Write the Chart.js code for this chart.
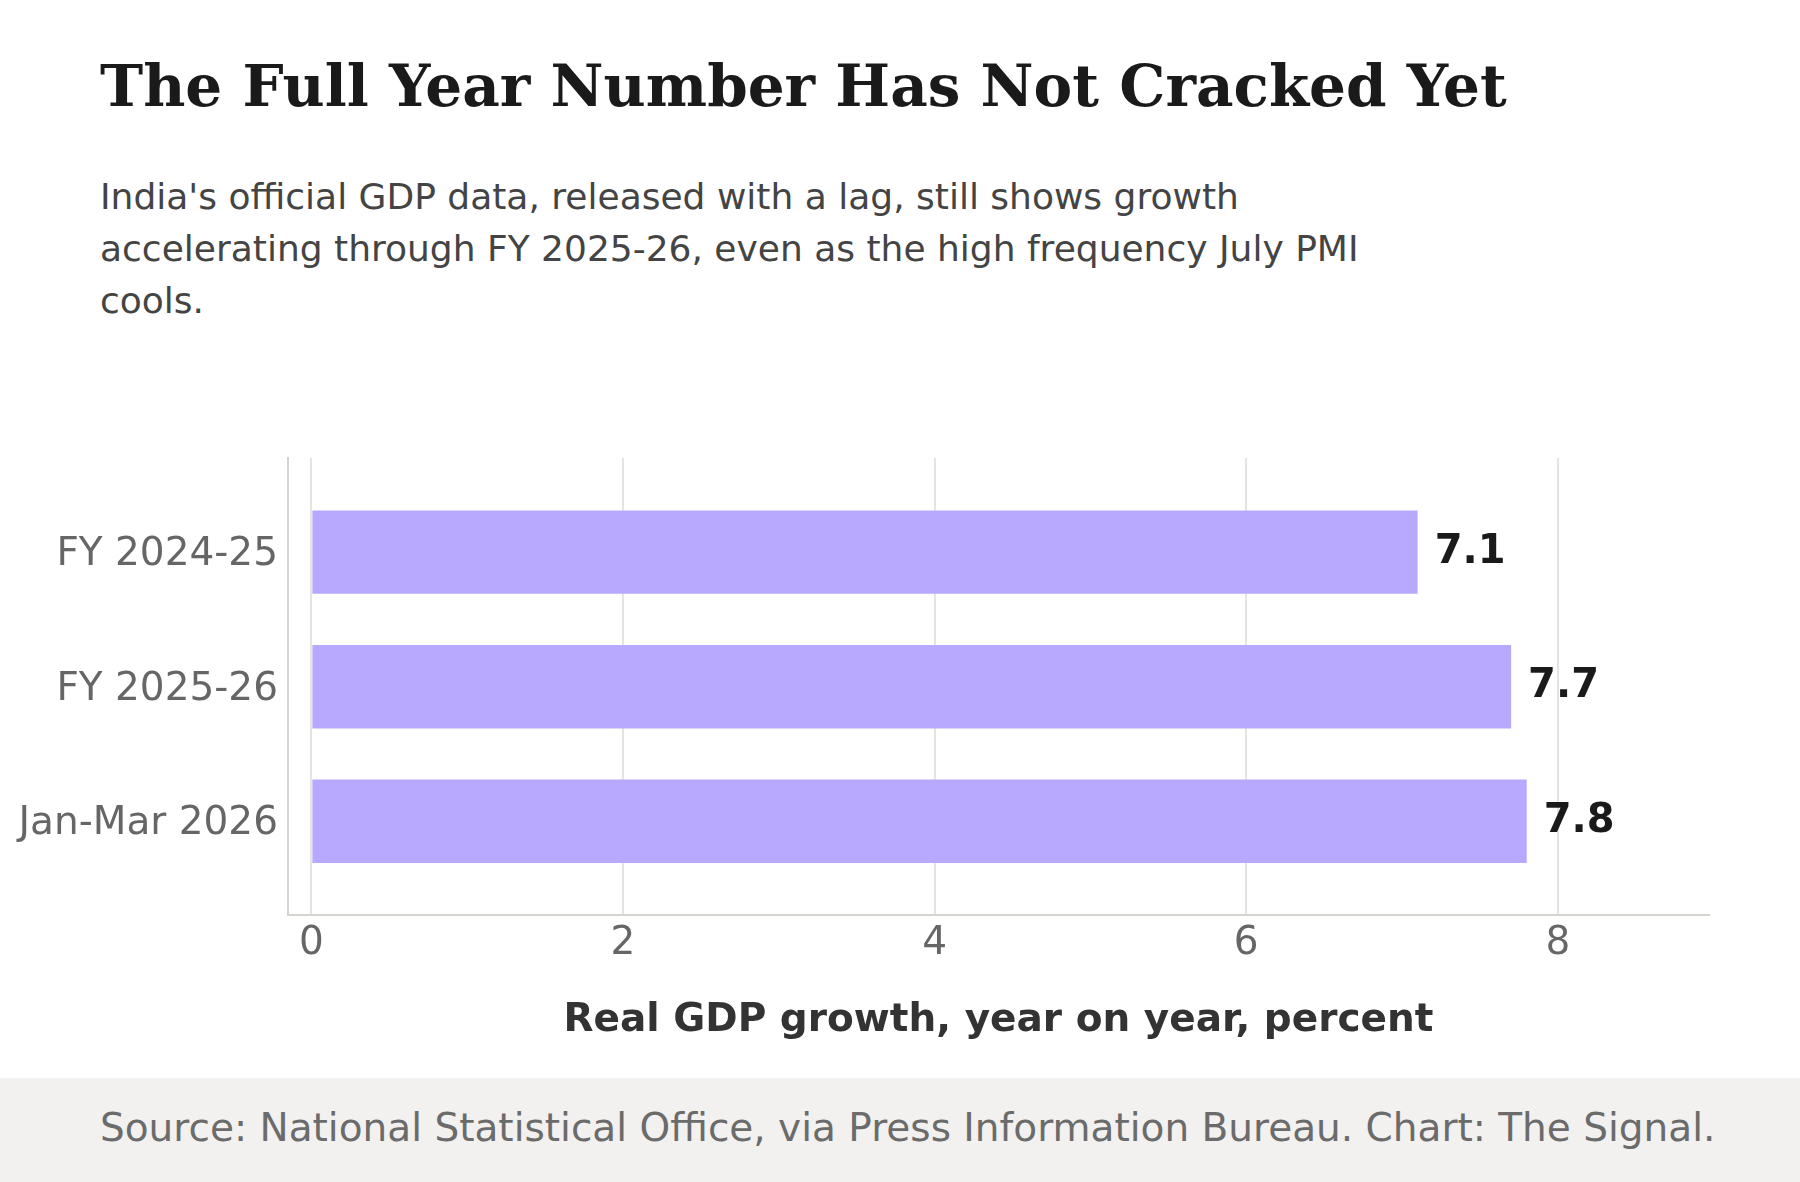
<!DOCTYPE html>
<html>
<head>
<meta charset="utf-8">
<script src="https://cdn.jsdelivr.net/npm/chart.js@4"></script>
<style>
  html, body { margin: 0; padding: 0; background: #ffffff; }
  body { width: 1800px; height: 1182px; position: relative; overflow: hidden; font-family: "DejaVu Sans", sans-serif; }
  #title { position: absolute; left: 100px; top: 55px; font-family: "DejaVu Serif", serif; font-weight: bold; font-size: 58px; line-height: 62px; color: #1a1a1a; white-space: nowrap; }
  #subtitle { position: absolute; left: 100px; top: 171px; font-size: 36px; line-height: 52px; color: #444444; white-space: nowrap; }
  #chartBox { position: absolute; left: 0; top: 400px; width: 1800px; height: 678px; }
  #footer { position: absolute; left: 0; top: 1078px; width: 1800px; height: 104px; background: #f2f1ef; }
  #source { position: absolute; left: 100px; top: 26px; font-size: 39px; line-height: 48px; color: #6b6b6b; white-space: nowrap; }
</style>
</head>
<body>
<div id="title">The Full Year Number Has Not Cracked Yet</div>
<div id="subtitle">India's official GDP data, released with a lag, still shows growth<br>accelerating through FY 2025-26, even as the high frequency July PMI<br>cools.</div>
<div id="chartBox"><canvas id="chart"></canvas></div>
<div id="footer"><div id="source">Source: National Statistical Office, via Press Information Bureau. Chart: The Signal.</div></div>
<script>
const categories = ["FY 2024-25", "FY 2025-26", "Jan-Mar 2026"];
const growth = [7.1, 7.7, 7.8];
const xTicks = [0, 2, 4, 6, 8];

const canvas = document.getElementById("chart");
const ctx = canvas.getContext("2d");

// value labels at the end of each bar
const barLabels = {
    id: "barLabels",
    afterDatasetsDraw: (chart) => {
        const c = chart.ctx;
        const meta = chart.getDatasetMeta(0);
        c.save();
        c.font = "bold 40px 'DejaVu Sans'";
        c.fillStyle = "#1a1a1a";
        c.textAlign = "left";
        c.textBaseline = "middle";
        meta.data.forEach((bar, i) => {
            c.fillText(growth[i].toFixed(1), bar.x + 17, bar.y);
        });
        c.restore();
    },
};

new Chart(ctx, {
    type: "bar",
    data: {
        datasets: [
            {
                data: growth.map((v, i) => ({ x: v, y: i })),
                backgroundColor: "#b8a9ff",
                borderWidth: 0,
                categoryPercentage: 1,
                barPercentage: 0.62,
            },
        ],
    },
    options: {
        indexAxis: "y",
        responsive: true,
        maintainAspectRatio: false,
        animation: false,
        layout: { padding: { top: 58, right: 91, bottom: 34, left: 0 } },
        plugins: {
            legend: { display: false },
            tooltip: { enabled: false },
        },
        scales: {
            x: {
                type: "linear",
                min: -0.15,
                max: 8.97,
                afterBuildTicks: (scale) => {
                    scale.ticks = xTicks.map((v) => ({ value: v }));
                },
                grid: { color: "#e6e4e1", lineWidth: 2, drawTicks: false },
                border: { display: true, color: "#d6d4cf", width: 2 },
                ticks: {
                    padding: 5,
                    color: "#666666",
                    font: { family: "DejaVu Sans", size: 39 },
                },
                title: {
                    display: true,
                    text: "Real GDP growth, year on year, percent",
                    color: "#333333",
                    font: { family: "DejaVu Sans", size: 39, weight: "bold" },
                    padding: { top: 25, bottom: 0 },
                },
            },
            y: {
                type: "linear",
                reverse: true,
                offset: false,
                min: -0.7,
                max: 2.7,
                afterBuildTicks: (scale) => {
                    scale.ticks = categories.map((c, i) => ({ value: i }));
                },
                afterFit: (scale) => {
                    scale.width = 288;
                },
                grid: { display: false, drawTicks: false, offset: false },
                border: { display: true, color: "#d6d4cf", width: 2 },
                ticks: {
                    padding: 10,
                    labelOffset: 3,
                    color: "#666666",
                    font: { family: "DejaVu Sans", size: 39 },
                    callback: (value) => categories[value],
                },
            },
        },
    },
    plugins: [barLabels],
});
</script>
</body>
</html>
